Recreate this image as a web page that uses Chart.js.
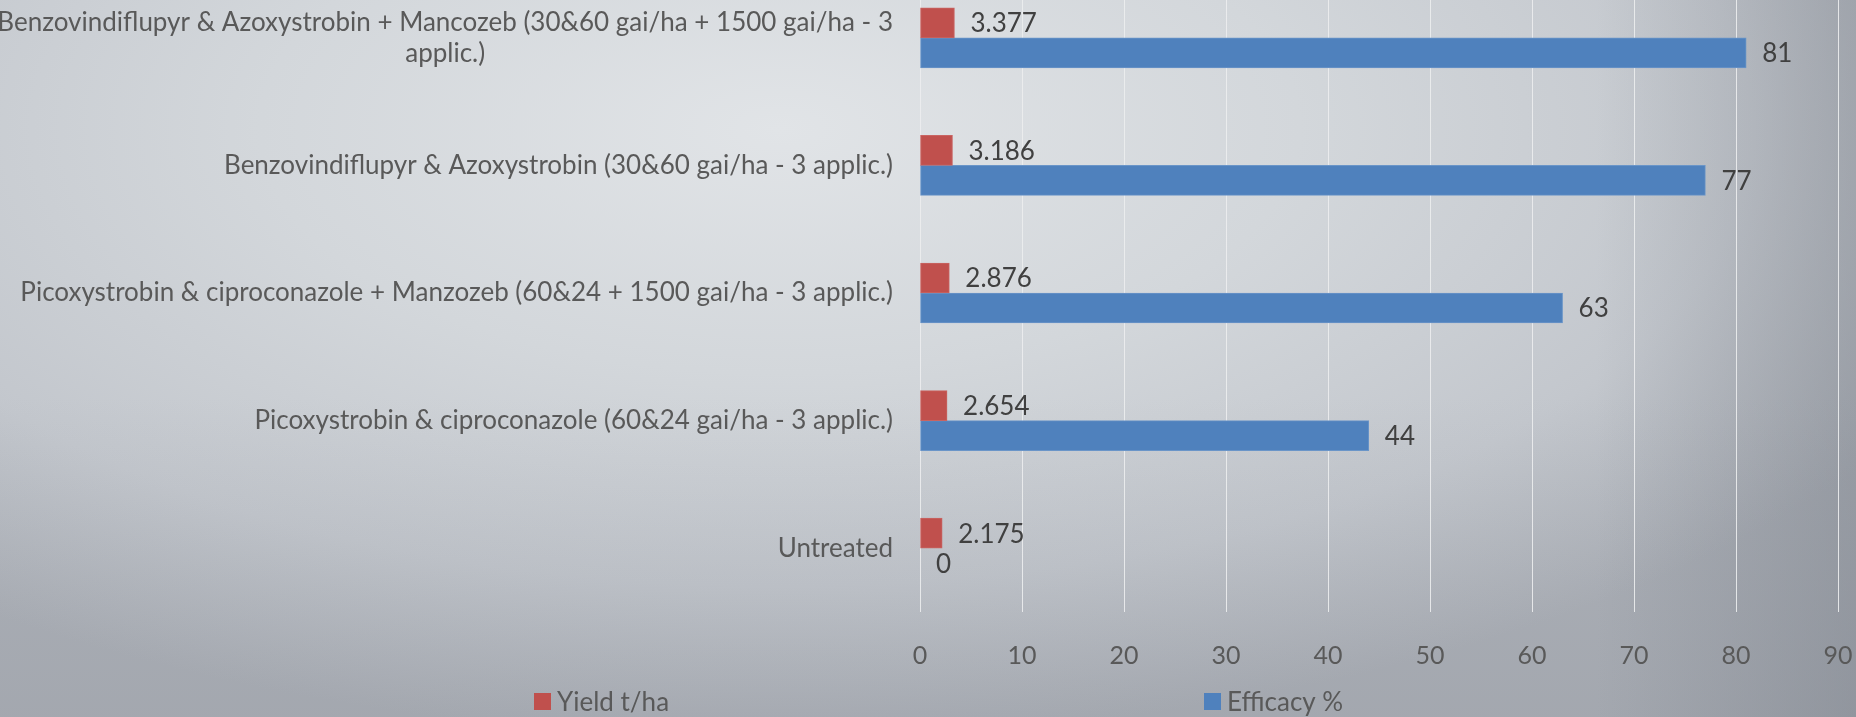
<!DOCTYPE html>
<html>
<head>
<meta charset="utf-8">
<script src="https://cdn.jsdelivr.net/npm/chart.js@4.4.1/dist/chart.umd.min.js"></script>
<style>
  html, body { margin: 0; padding: 0; }
  body {
    width: 1856px; height: 717px; overflow: hidden; position: relative;
    background:
      linear-gradient(to right, rgba(0,0,0,0) 0%, rgba(0,0,0,0) 86%, rgba(110,116,126,0.35) 100%),
      linear-gradient(to bottom, rgba(0,0,0,0) 0%, rgba(0,0,0,0) 55%, rgba(120,125,135,0.18) 100%),
      radial-gradient(ellipse 70% 85% at 42% 18%, #e1e4e7 0%, #d3d7db 40%, #c3c7cd 75%, #adb1b8 100%);
  }
  #wrap { position: absolute; left: 0; top: -26px; width: 1856px; height: 743px; }
</style>
</head>
<body>
<div id="wrap"><canvas id="c"></canvas></div>
<script>
// ---- data ----
const categories = [
  ["Benzovindiflupyr & Azoxystrobin + Mancozeb (30&60 gai/ha + 1500 gai/ha - 3", "applic.)"],
  "Benzovindiflupyr & Azoxystrobin (30&60 gai/ha - 3 applic.)",
  "Picoxystrobin & ciproconazole + Manzozeb (60&24 + 1500 gai/ha - 3 applic.)",
  "Picoxystrobin & ciproconazole (60&24 gai/ha - 3 applic.)",
  "Untreated"
];
const yieldValues = [3.377, 3.186, 2.876, 2.654, 2.175];
const efficacyValues = [81, 77, 63, 44, 0];
const seriesNames = ["Yield t/ha", "Efficacy %"];
const xTicks = [0, 10, 20, 30, 40, 50, 60, 70, 80, 90];

// ---- styles ----
const FONT = "Lato, 'Open Sans', sans-serif";
const RED = "#C0504D";
const BLUE = "#4F81BD";
const TEXT_GRAY = "#595959";
const LABEL_DARK = "#404040";

const dataLabels = {
  id: 'dataLabels',
  afterDatasetsDraw(chart) {
    const ctx = chart.ctx;
    ctx.save();
    ctx.font = "26px " + FONT;
    ctx.fillStyle = LABEL_DARK;
    ctx.textAlign = 'left';
    ctx.textBaseline = 'middle';
    chart.data.datasets.forEach((ds, di) => {
      const meta = chart.getDatasetMeta(di);
      meta.data.forEach((el, i) => {
        ctx.fillText(String(ds.data[i]), el.x + 16, el.y + 1);
      });
    });
    ctx.restore();
  }
};

const catLabels = {
  id: 'catLabels',
  afterDraw(chart) {
    const ctx = chart.ctx;
    const ys = chart.scales.y;
    const right = chart.chartArea.left - 27;
    const lh = 31;
    ctx.save();
    ctx.font = "26px " + FONT;
    ctx.fillStyle = TEXT_GRAY;
    ctx.textBaseline = 'middle';
    ctx.textAlign = 'center';
    chart.data.labels.forEach((lab, i) => {
      const lines = Array.isArray(lab) ? lab : [lab];
      const w = Math.max(...lines.map(l => ctx.measureText(l).width));
      const cx = right - w / 2;
      const cy = ys.getPixelForTick(i);
      const y0 = cy - (lines.length - 1) * lh / 2;
      lines.forEach((l, k) => ctx.fillText(l, cx, y0 + k * lh));
    });
    ctx.restore();
  }
};

const customLegend = {
  id: 'customLegend',
  afterDraw(chart) {
    const ctx = chart.ctx;
    const starts = [534, 1204];
    const boxTop = 719, box = 17;
    ctx.save();
    ctx.font = "26px " + FONT;
    ctx.textBaseline = 'alphabetic';
    ctx.textAlign = 'left';
    chart.data.datasets.forEach((ds, i) => {
      ctx.fillStyle = ds.backgroundColor;
      ctx.fillRect(starts[i], boxTop, box, box);
      ctx.fillStyle = TEXT_GRAY;
      ctx.fillText(ds.label, starts[i] + box + 6, boxTop + box + 1);
    });
    ctx.restore();
  }
};

new Chart(document.getElementById('c'), {
  type: 'bar',
  data: {
    labels: categories,
    datasets: [
      { label: seriesNames[0], data: yieldValues, backgroundColor: RED, borderColor: '#c96462', borderWidth: 1, borderSkipped: false },
      { label: seriesNames[1], data: efficacyValues, backgroundColor: BLUE, borderColor: '#6a95c8', borderWidth: 1, borderSkipped: false }
    ]
  },
  options: {
    indexAxis: 'y',
    responsive: true,
    maintainAspectRatio: false,
    animation: false,
    barThickness: 30,
    layout: { padding: { top: 0, right: 18, bottom: 17, left: 0 } },
    plugins: {
      legend: { display: false },
      tooltip: { enabled: false }
    },
    scales: {
      x: {
        type: 'linear',
        min: xTicks[0],
        max: xTicks[xTicks.length - 1],
        afterBuildTicks(scale) { scale.ticks = xTicks.map(v => ({ value: v })); },
        afterFit(scale) { scale.paddingLeft = 0; scale.paddingRight = 0; },
        grid: { color: 'rgba(236,237,238,0.9)', lineWidth: 1, drawTicks: false },
        border: { display: false },
        ticks: { color: TEXT_GRAY, font: { family: FONT, size: 25 }, padding: 29, maxRotation: 0 }
      },
      y: {
        grid: { display: false, drawTicks: false },
        border: { display: false },
        ticks: { display: false },
        afterFit(scale) { scale.width = 920; }
      }
    }
  },
  plugins: [dataLabels, catLabels, customLegend]
});
</script>
</body>
</html>
